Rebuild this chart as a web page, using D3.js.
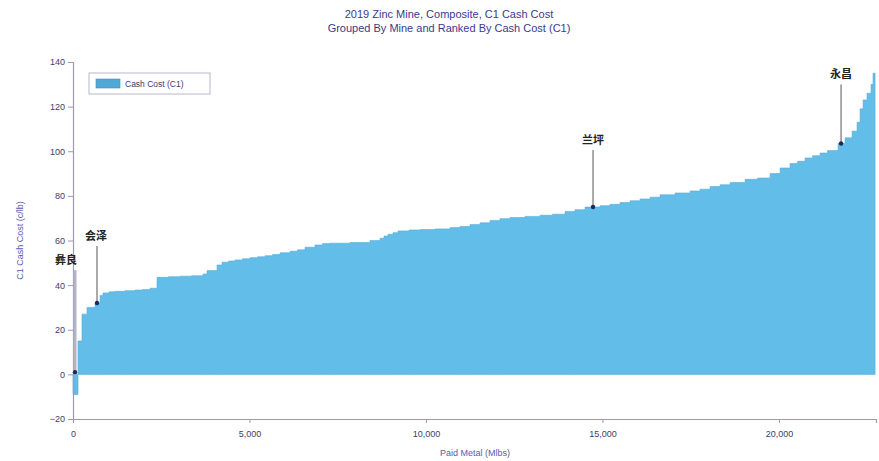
<!DOCTYPE html>
<html>
<head>
<meta charset="utf-8">
<script src="https://cdn.jsdelivr.net/npm/d3@7"></script>
<style>
  html, body { margin: 0; padding: 0; background: #fff; }
  svg { display: block; font-family: Arial, "Liberation Sans", sans-serif; }
</style>
</head>
<body>
<svg id="chart" width="879" height="461"></svg>
<script>
// Paid metal per mine (kt) and C1 cash cost (c/lb), ranked by cost
const paidMetal = [142,113,142,227,142,85,170,170,283,284,212,213,198,
  326,326,326,326,113,283,142,184,184,212,213,212,213,212,213,283,212,213,283,212,213,566,567,
  283,113,114,142,141,311,312,425,425,283,284,283,284,283,284,425,425,354,354,283,284,425,
  283,284,283,284,283,284,425,425,283,284,283,284,425,354,354,283,283,212,213,212,213,212,298,
  198,198,142,85,85,113,113,57,57];
const cashCost = [-9,15,27,30,32,35.4,36.5,37,37.2,37.5,37.8,38,38.6,
  43.5,43.8,44,44.2,45,46.5,49,50.3,50.8,51.3,51.8,52.3,52.7,53.2,53.7,54.5,55.2,55.8,57,58,58.6,58.8,59.1,
  60,61,62,62.8,63.5,64.3,64.7,64.9,65.2,65.8,66.3,67.2,67.9,69,69.8,70.3,70.8,71.3,71.8,73,73.8,75,
  75.6,76.2,77,77.8,78.6,79.4,80.5,81.3,82.2,83,84.2,85,86,87.4,88,90,92.5,94.5,95.5,97,98,99.2,100.3,
  103.5,106,109,113,119,123,126,130,135];

// Highlighted mines: cumulative paid metal and cost at the marker
const highlightNames = ["彝良", "会泽", "兰坪", "永昌"];
const highlightMetal = [57, 680, 14733, 21760];
const highlightCost = [1, 32, 75, 103.5];

const yTicks = [-20, 0, 20, 40, 60, 80, 100, 120, 140];
const xTicks = [0, 5000, 10000, 15000, 20000];

const titleLines = ["2019 Zinc Mine, Composite, C1 Cash Cost", "Grouped By Mine and Ranked By Cash Cost (C1)"];
const yTitle = "C1 Cash Cost (c/lb)";
const xTitle = "Paid Metal (Mlbs)";
const legendLabel = "Cash Cost (C1)";

const svg = d3.select("#chart");
const textColor = "#3a3a8c";
const tickColor = "#3c3c6e";
const fillColor = "#62bde8";

const x = d3.scaleLinear().domain([0, 22750]).range([73, 876]);
const y = d3.scaleLinear().domain([-20, 140]).range([419, 62]);

// Step profile: each mine occupies [start, start + width] at its cost
let cum = 0;
const steps = paidMetal.map((w, i) => { const s = { x0: cum, v: cashCost[i] }; cum += w; return s; });
steps.push({ x0: cum, v: cashCost[cashCost.length - 1] });

const area = d3.area()
  .x(d => x(d.x0))
  .y0(y(0))
  .y1(d => y(d.v))
  .curve(d3.curveStepAfter);

svg.append("path")
  .datum(steps)
  .attr("d", area)
  .attr("fill", fillColor)
  .attr("stroke", "#57acd8")
  .attr("stroke-width", 0.6);

// Axes
const yAxis = svg.append("g")
  .attr("transform", `translate(${x(0)},0)`)
  .call(d3.axisLeft(y).tickValues(yTicks).tickSize(5).tickPadding(3));
const xAxis = svg.append("g")
  .attr("transform", `translate(0,${y(-20)})`)
  .call(d3.axisBottom(x).tickValues(xTicks).tickSize(4).tickPadding(8)
    .tickFormat(d3.format(",")));

[yAxis, xAxis].forEach(g => {
  g.select(".domain").attr("stroke", "#9a9ab0").attr("stroke-width", 1.2);
  g.selectAll(".tick line").attr("stroke", "#9a9ab0");
  g.selectAll(".tick text").attr("fill", tickColor).attr("font-size", 9)
    .attr("font-family", "Arial, 'Liberation Sans', sans-serif");
});

// Titles
svg.append("g").selectAll("text").data(titleLines).join("text")
  .attr("x", 449).attr("y", (d, i) => 18 + i * 14)
  .attr("text-anchor", "middle").attr("font-size", 11).attr("fill", textColor)
  .text(d => d);

svg.append("text")
  .attr("transform", `translate(23,${y(60)}) rotate(-90)`)
  .attr("text-anchor", "middle").attr("font-size", 9).attr("fill", "#5a5ab0")
  .text(yTitle);

svg.append("text")
  .attr("x", 475).attr("y", 456)
  .attr("text-anchor", "middle").attr("font-size", 9).attr("fill", "#5a5ab0")
  .text(xTitle);

// Legend
const leg = svg.append("g").attr("transform", "translate(89,73)");
leg.append("rect").attr("width", 121).attr("height", 21)
  .attr("fill", "#fff").attr("stroke", "#b8b8cc").attr("stroke-width", 1);
leg.append("rect").attr("x", 7).attr("y", 6).attr("width", 24).attr("height", 9)
  .attr("fill", "#4fa8d6").attr("stroke", "#3e8fbf").attr("stroke-width", 0.6);
leg.append("text").attr("x", 36).attr("y", 14).attr("font-size", 8.5).attr("fill", tickColor)
  .text(legendLabel);

// Mine annotations
const lift = [108, 63, 63, 65];
const labelShift = [-9, -1, 0, 0];
highlightNames.forEach((name, i) => {
  const px = x(highlightMetal[i]);
  const py = y(highlightCost[i]);
  const g = svg.append("g");
  g.append("line")
    .attr("x1", px).attr("x2", px)
    .attr("y1", py - lift[i] + 6).attr("y2", py)
    .attr("stroke", i === 0 ? "#b4b4c6" : "#555")
    .attr("stroke-width", i === 0 ? 3 : 1);
  g.append("circle").attr("cx", px).attr("cy", py).attr("r", 2.2).attr("fill", "#1c2a5a");
  g.append("text")
    .attr("x", px + labelShift[i]).attr("y", py - lift[i])
    .attr("text-anchor", "middle")
    .attr("font-family", "'Noto Sans CJK SC', sans-serif")
    .attr("font-weight", "bold").attr("font-size", 11).attr("fill", "#222")
    .text(name);
});
</script>
</body>
</html>
